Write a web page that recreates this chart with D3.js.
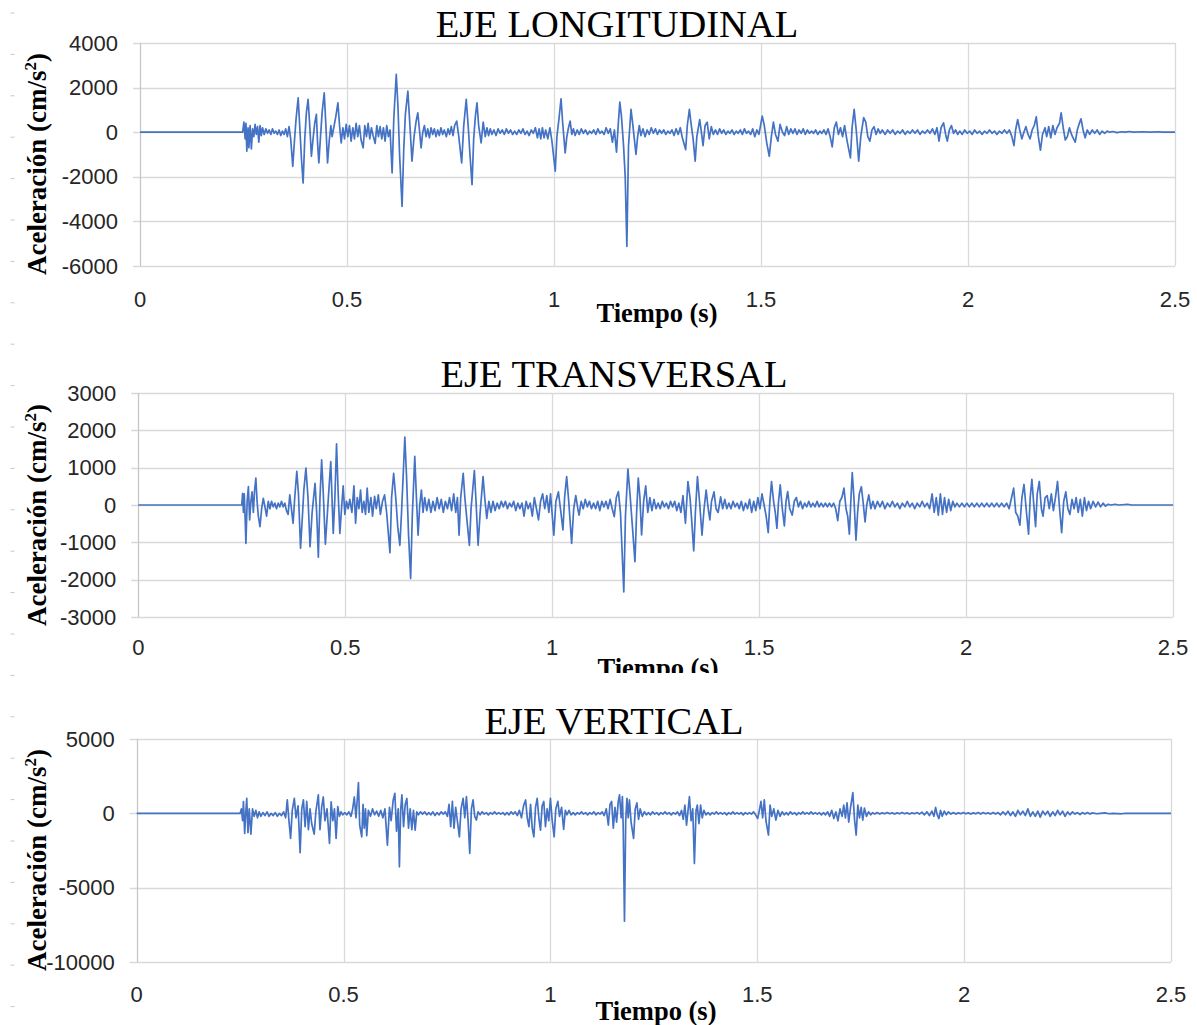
<!DOCTYPE html>
<html>
<head>
<meta charset="utf-8">
<script src="https://cdn.jsdelivr.net/npm/d3@7/dist/d3.min.js"></script>
<style>
    body { margin: 0; background: #ffffff; }
    svg { display: block; }
</style>
</head>
<body>
<div id="chart"></div>
<script>
"use strict";

// time axis ticks (s)
var time_ticks = [0, 0.5, 1, 1.5, 2, 2.5];

// y ticks of each panel (cm/s2)
var long_ticks = [4000, 2000, 0, -2000, -4000, -6000];
var trans_ticks = [3000, 2000, 1000, 0, -1000, -2000, -3000];
var vert_ticks = [5000, 0, -5000, -10000];

var titles = ["EJE LONGITUDINAL", "EJE TRANSVERSAL", "EJE VERTICAL"];

// [time, acceleration]
var longitudinal = [
[0,0],[0.248,0],
[0.251,450],[0.254,-300],[0.256,400],[0.258,-850],[0.261,200],[0.263,-700],[0.266,300],[0.269,-750],[0.272,150],[0.275,-200],[0.278,350],[0.281,-100],[0.284,250],[0.287,-450],[0.290,300],[0.293,-150],[0.296,200],
[0.300,-100],[0.304,150],[0.308,-50],[0.312,100],[0.316,-100],[0.320,150],[0.324,-50],[0.328,50],[0.332,-100],[0.336,100],[0.340,-150],[0.344,50],[0.348,-100],[0.352,150],[0.356,-200],[0.360,250],
[0.364,-300],[0.369,-1530],[0.373,-400],[0.377,600],[0.382,1540],[0.386,200],[0.390,-1200],[0.394,-2280],[0.398,-300],[0.402,900],[0.406,1470],[0.410,300],[0.414,-1080],[0.418,-300],[0.422,400],[0.426,800],[0.429,-500],[0.432,-1380],[0.436,-200],[0.440,900],[0.445,1770],[0.449,300],[0.453,-1380],[0.457,-400],[0.461,300],[0.464,-200],[0.468,200],[0.473,700],[0.478,1320],[0.482,300],[0.486,-480],[0.490,200],[0.494,-300],[0.498,350],[0.502,-200],[0.506,300],[0.510,-400],[0.514,200],[0.518,-300],[0.522,400],[0.526,-200],[0.530,300],[0.534,-350],[0.539,-700],[0.543,300],[0.547,-200],[0.551,400],[0.555,-300],[0.559,200],[0.563,-150],[0.568,-500],[0.572,300],[0.576,-200],[0.580,250],[0.584,-300],[0.588,200],[0.592,-400],[0.596,300],[0.600,-200],[0.604,100],
[0.609,-1830],[0.613,600],[0.619,2590],[0.623,1200],[0.627,-1000],[0.633,-3330],[0.637,-800],[0.641,800],[0.647,1840],[0.652,300],[0.657,-1300],[0.662,-200],[0.667,500],[0.671,870],[0.675,100],[0.679,-700],[0.683,0],[0.687,300],[0.691,-200],[0.695,150],[0.699,-250],[0.703,200],[0.707,-100],[0.711,150],[0.715,-200],[0.719,100],[0.723,-150],[0.727,200],[0.731,-100],[0.735,100],[0.740,-200],[0.744,150],[0.748,-100],[0.752,250],[0.756,-150],[0.760,300],[0.765,500],[0.770,-200],[0.777,-1380],[0.782,300],[0.788,1470],[0.793,200],[0.797,-1000],[0.802,-2350],[0.806,-300],[0.810,700],[0.814,1320],[0.818,300],[0.824,-480],[0.829,450],[0.834,-200],[0.838,200],[0.842,-150],[0.846,150],[0.850,-100],[0.855,100],[0.860,-150],[0.865,150],[0.870,-50],[0.875,100],[0.880,-100],[0.885,150],[0.890,-50],[0.895,100],[0.900,-100],[0.905,50],[0.910,-100],[0.915,100],[0.920,-50],[0.925,150],[0.930,-100],[0.935,50],[0.940,-150],[0.945,100],[0.950,-50],[0.955,200],[0.960,-250],[0.964,150],[0.968,-300],[0.972,200],[0.976,-250],[0.980,100],[0.985,-300],[0.990,200],[0.995,-400],
[1.003,-1750],[1.007,-200],[1.012,600],[1.017,1500],[1.021,400],[1.027,-930],[1.031,-200],[1.035,200],[1.039,500],[1.043,-100],[1.047,150],[1.051,-150],[1.056,100],[1.061,-100],[1.066,150],[1.071,-50],[1.076,100],[1.081,-100],[1.086,50],[1.091,-50],[1.096,100],[1.101,-100],[1.106,150],[1.111,-50],[1.116,50],[1.121,-100],[1.126,200],[1.131,-50],[1.136,150],[1.141,-450],[1.146,100],[1.151,-900],[1.155,300],[1.159,1350],[1.163,700],[1.168,-600],[1.172,-2000],[1.176,-5120],[1.180,-600],[1.186,1020],[1.190,400],[1.194,-300],[1.198,-1000],[1.202,-200],[1.206,300],[1.210,-150],[1.215,150],[1.220,-200],[1.225,100],[1.230,-100],[1.235,200],[1.240,-50],[1.245,150],[1.250,-100],[1.255,100],[1.260,-50],[1.265,100],[1.270,-100],[1.275,50],[1.280,-50],[1.285,100],[1.290,-150],[1.295,150],[1.300,-100],[1.305,200],[1.310,-250],
[1.318,-780],[1.322,300],[1.327,1020],[1.331,400],[1.336,-300],[1.341,-1300],[1.345,-200],[1.352,570],[1.356,0],[1.360,-600],[1.365,300],[1.370,450],[1.375,-300],[1.380,250],[1.385,-100],[1.390,100],[1.395,-100],[1.400,150],[1.405,-50],[1.410,100],[1.415,-100],[1.420,50],[1.425,-50],[1.430,100],[1.435,-100],[1.440,50],[1.445,-50],[1.450,100],[1.455,-100],[1.460,150],[1.465,-50],[1.470,50],[1.475,-100],[1.480,150],[1.485,-200],[1.490,100],[1.495,-100],
[1.503,720],[1.508,300],[1.514,-500],[1.520,-1080],[1.525,-200],[1.530,450],[1.535,-100],[1.541,-400],[1.546,350],[1.552,0],[1.557,-150],[1.562,250],[1.567,-100],[1.572,150],[1.577,-50],[1.582,150],[1.587,-100],[1.592,100],[1.597,-50],[1.602,150],[1.607,-100],[1.612,100],[1.617,-50],[1.622,50],[1.627,-50],[1.632,100],[1.637,-100],[1.642,50],[1.647,-50],[1.652,100],[1.657,-100],[1.662,150],[1.667,-200],[1.672,-660],[1.677,200],[1.682,450],[1.687,-100],[1.692,200],[1.697,-200],[1.702,300],[1.708,-400],[1.716,-1150],[1.720,200],[1.725,1020],[1.730,100],[1.736,-1300],[1.741,-200],[1.748,650],[1.753,450],[1.758,-200],[1.763,-400],[1.768,100],[1.773,250],[1.778,-100],[1.783,150],[1.788,-50],[1.793,100],
[1.800,-100],[1.806,100],[1.812,-50],[1.818,100],[1.824,-100],[1.830,50],[1.836,-50],[1.842,100],[1.848,-100],[1.854,50],[1.860,-50],[1.866,100],[1.872,-50],[1.878,100],[1.884,-100],[1.890,50],[1.896,-50],[1.902,100],[1.908,-50],[1.914,150],[1.920,-100],[1.925,200],[1.930,-400],[1.935,200],[1.941,420],[1.946,-100],[1.950,-400],[1.955,100],[1.960,300],[1.965,-50],[1.970,100],[1.975,-100],[1.980,50],[1.986,-100],[1.992,100],[1.998,-50],[2.004,50],[2.010,-100],[2.016,100],[2.022,-50],[2.028,50],[2.034,-100],[2.040,50],[2.046,-50],[2.052,100],[2.058,-50],[2.064,50],[2.070,-100],[2.076,50],[2.082,-50],[2.088,100],[2.094,-50],[2.100,100],
[2.106,-200],[2.111,-600],[2.115,100],[2.120,570],[2.125,100],[2.130,-300],[2.135,0],[2.140,250],[2.145,-100],[2.150,-300],[2.155,100],[2.160,300],[2.165,690],[2.170,-200],[2.175,-810],[2.180,-100],[2.186,200],[2.190,-200],[2.195,250],[2.200,-250],[2.205,300],[2.210,-100],[2.215,200],[2.221,400],[2.225,870],[2.230,200],[2.235,-350],[2.240,-200],[2.245,200],[2.250,-100],[2.255,-300],[2.259,-450],[2.264,100],[2.268,350],[2.273,600],[2.278,100],[2.283,-250],[2.288,100],[2.294,-100],[2.300,100],[2.306,-50],[2.312,100],[2.318,-100],[2.324,50],[2.330,-50],[2.336,50],[2.342,0],[2.350,30],[2.360,-20],[2.370,20],[2.380,0],[2.390,30],[2.400,0],[2.420,20],[2.440,0],[2.460,20],[2.470,0],[2.500,0]
];

var transversal = [
[0,0],[0.250,0],
[0.252,310],[0.254,-200],[0.256,300],[0.258,-300],[0.260,-1030],[0.263,100],[0.266,490],[0.269,-400],[0.272,100],[0.275,350],[0.278,-200],[0.281,400],[0.284,720],[0.287,100],[0.290,-300],[0.294,-580],[0.298,-100],[0.302,180],[0.306,-50],[0.310,-300],[0.314,100],[0.318,-100],[0.322,100],[0.326,-50],[0.330,50],[0.334,-100],[0.338,50],[0.342,-50],[0.346,100],[0.350,-50],[0.354,50],[0.358,-150],[0.362,-250],[0.366,270],[0.370,-100],[0.374,-490],[0.378,200],
[0.383,900],[0.387,300],[0.392,-1160],[0.396,-400],[0.400,400],[0.405,990],[0.410,200],[0.415,-1120],[0.420,-200],[0.427,580],[0.431,-200],[0.435,-1400],[0.439,200],[0.443,1210],[0.447,300],[0.452,-1050],[0.457,-200],[0.461,500],[0.465,1160],[0.468,200],[0.471,-760],[0.475,200],[0.479,1640],[0.483,300],[0.487,-760],[0.491,-100],[0.495,510],[0.499,-250],[0.503,100],[0.507,-100],[0.511,150],[0.516,-200],[0.521,510],[0.525,-490],[0.529,200],[0.533,-100],[0.537,400],[0.541,-200],[0.545,100],[0.549,-250],[0.553,450],[0.557,-200],[0.562,200],[0.566,-300],[0.571,230],[0.575,-100],[0.580,270],[0.585,-250],[0.590,100],[0.595,270],[0.600,-200],
[0.608,-1280],[0.612,200],[0.617,850],[0.622,200],[0.627,-600],[0.632,-1080],[0.636,-200],[0.640,800],[0.644,1820],[0.648,800],[0.653,-800],[0.658,-1970],[0.662,-300],[0.668,1300],[0.672,200],[0.676,-810],[0.680,0],[0.684,400],[0.688,-200],[0.692,200],[0.697,-150],[0.702,150],[0.707,-200],[0.712,100],[0.717,-150],[0.722,200],[0.727,-100],[0.732,150],[0.737,-200],[0.742,100],[0.747,-100],[0.752,200],[0.757,-150],[0.762,300],[0.767,-200],[0.771,200],
[0.775,-810],[0.779,200],[0.785,850],[0.789,200],[0.794,-400],[0.800,-1080],[0.804,-100],[0.812,920],[0.816,100],[0.821,-1080],[0.826,-200],[0.833,760],[0.837,200],[0.842,-360],[0.847,100],[0.852,-200],[0.857,100],[0.862,-150],[0.867,50],[0.872,-100],[0.877,100],[0.882,-50],[0.887,100],[0.892,-100],[0.897,50],[0.902,-50],[0.907,100],[0.912,-150],[0.917,50],[0.922,-100],[0.927,50],[0.932,-300],[0.937,100],[0.942,-100],[0.947,50],[0.952,-300],[0.957,200],[0.962,-100],[0.967,-400],[0.972,100],[0.977,300],[0.982,-100],[0.987,250],[0.992,-200],[0.996,300],
[1.004,-810],[1.009,100],[1.015,350],[1.020,-100],[1.026,-670],[1.030,200],[1.035,760],[1.040,100],[1.047,-1030],[1.052,-100],[1.057,250],[1.062,-100],[1.065,-270],[1.070,100],[1.075,-100],[1.080,150],[1.085,-50],[1.090,100],[1.095,-100],[1.100,50],[1.105,-100],[1.110,100],[1.115,-150],[1.120,100],[1.125,-50],[1.130,100],[1.135,-100],[1.140,150],[1.145,-100],[1.150,-310],[1.155,200],[1.160,360],[1.165,-200],
[1.173,-2330],[1.177,-300],[1.183,960],[1.188,300],[1.194,-600],[1.200,-1520],[1.204,-200],[1.208,720],[1.212,200],[1.216,-800],[1.221,100],[1.226,510],[1.231,-200],[1.236,200],[1.241,-150],[1.246,150],[1.251,-100],[1.256,50],[1.261,-100],[1.266,100],[1.271,-50],[1.276,50],[1.281,-100],[1.286,100],[1.291,-50],[1.296,100],[1.301,-150],[1.306,50],[1.311,-200],[1.316,250],
[1.322,-490],[1.328,630],[1.333,200],[1.337,-400],[1.342,-1230],[1.346,-200],[1.351,760],[1.356,100],[1.362,-810],[1.367,-100],[1.372,400],[1.377,-100],[1.381,-400],[1.385,100],[1.391,350],[1.396,-100],[1.401,-200],[1.407,220],[1.412,-100],[1.417,150],[1.422,-100],[1.427,50],[1.432,-100],[1.437,100],[1.442,-50],[1.447,50],[1.452,-100],[1.457,100],[1.462,-150],[1.467,50],[1.472,-100],[1.477,150],[1.482,-200],[1.487,100],[1.492,-150],[1.497,200],[1.502,-100],
[1.507,300],[1.512,0],[1.517,-300],[1.522,-740],[1.526,100],[1.530,630],[1.535,100],[1.539,-200],[1.543,-630],[1.547,100],[1.551,540],[1.556,-100],[1.561,-560],[1.565,100],[1.569,360],[1.574,-100],[1.580,-270],[1.585,100],[1.590,200],[1.595,-50],[1.600,100],[1.605,-100],[1.610,50],[1.615,-50],[1.620,100],[1.625,-50],[1.630,50],[1.635,-50],[1.640,100],[1.645,-50],[1.650,50],[1.655,-50],[1.660,50],[1.665,-50],[1.670,50],[1.675,-50],[1.680,50],[1.685,-100],
[1.690,-420],[1.695,100],[1.700,200],[1.705,450],[1.710,-100],[1.714,-300],[1.718,-780],[1.722,200],[1.725,870],[1.729,200],[1.734,-940],[1.738,-200],[1.742,300],[1.747,490],[1.751,100],[1.756,-450],[1.760,0],[1.765,270],[1.770,-100],[1.775,100],[1.780,-100],[1.786,100],[1.792,-50],[1.798,100],[1.804,-100],[1.810,50],[1.816,-50],[1.822,100],[1.828,-50],[1.834,50],[1.840,-100],[1.846,50],[1.852,-50],[1.858,100],[1.864,-50],[1.870,50],[1.876,-100],[1.882,50],[1.888,-50],[1.894,100],[1.900,-50],[1.906,50],[1.912,-100],
[1.918,300],[1.923,-200],[1.928,200],[1.933,-270],[1.938,300],[1.943,-250],[1.948,200],[1.953,-200],[1.958,150],[1.963,-150],[1.968,100],[1.973,-50],[1.978,50],[1.984,-50],[1.990,50],[1.996,-50],[2.002,50],[2.008,-50],[2.014,50],[2.020,-50],[2.026,50],[2.032,-50],[2.038,50],[2.044,-50],[2.050,50],[2.056,-50],[2.062,50],[2.068,-50],[2.074,50],[2.080,-50],[2.086,50],[2.092,-50],[2.098,50],
[2.104,-100],[2.110,200],[2.115,450],[2.120,-200],[2.125,-300],[2.130,-540],[2.135,200],[2.140,550],[2.146,-200],[2.151,-780],[2.155,200],[2.159,690],[2.163,100],[2.168,-580],[2.172,300],[2.177,630],[2.182,-100],[2.186,-300],[2.191,200],[2.196,250],[2.201,-100],[2.206,300],[2.211,-150],[2.216,200],[2.221,630],[2.226,-100],[2.231,-740],[2.236,100],[2.241,350],[2.246,-100],[2.251,-250],[2.256,150],[2.261,-100],[2.266,200],[2.271,-200],[2.276,150],[2.281,-300],[2.286,200],[2.291,-150],[2.296,100],[2.301,-100],[2.307,100],[2.313,-50],[2.319,80],[2.325,-50],[2.331,50],[2.337,-30],[2.343,20],[2.350,0],[2.360,20],[2.370,0],[2.390,20],[2.400,0],[2.500,0]
];

var vertical = [
[0,0],[0.250,0],
[0.253,300],[0.256,-500],[0.258,790],[0.261,-1350],[0.264,200],[0.266,1010],[0.269,-1300],[0.272,300],[0.276,-1400],[0.280,300],[0.284,-200],[0.288,200],[0.292,-300],[0.296,100],[0.300,-200],[0.305,50],[0.310,-150],[0.315,100],[0.320,-200],[0.325,0],[0.330,-150],[0.335,50],[0.340,-200],[0.345,0],[0.350,-150],[0.355,100],[0.360,-300],
[0.364,900],[0.368,-500],[0.372,-1690],[0.376,200],[0.381,1010],[0.385,-300],[0.390,500],[0.395,-2650],[0.399,300],[0.403,900],[0.407,-900],[0.411,800],[0.415,-1100],[0.419,300],[0.423,-700],[0.429,-1400],[0.433,100],[0.439,1240],[0.443,-1100],[0.447,400],[0.451,1100],[0.455,-500],[0.460,300],[0.466,-2030],[0.470,780],[0.474,-500],[0.478,300],[0.482,-1690],[0.486,450],[0.490,-200],[0.494,100],[0.498,-100],[0.503,50],[0.508,-100],[0.513,100],[0.518,-200],
[0.522,300],[0.526,1100],[0.530,-300],[0.536,2070],[0.539,-800],[0.544,-1580],[0.547,600],[0.550,-1000],[0.553,300],[0.556,-1500],[0.560,200],[0.565,-200],[0.570,300],[0.575,-100],[0.580,150],[0.585,-200],[0.590,200],[0.595,-300],[0.600,300],
[0.606,-2140],[0.611,400],[0.615,-500],[0.620,900],[0.624,1350],[0.628,-1200],[0.632,300],[0.635,-3600],[0.638,200],[0.641,1240],[0.645,-900],[0.649,600],[0.653,1000],[0.657,-1000],[0.661,300],[0.665,-1100],[0.669,200],[0.673,-1130],[0.677,100],[0.681,-100],[0.686,100],[0.691,-50],[0.696,100],[0.701,-100],[0.706,50],[0.711,-100],[0.716,100],[0.721,-150],[0.726,50],[0.731,-100],[0.736,100],[0.741,-50],[0.746,100],[0.751,-200],
[0.755,600],[0.759,-900],[0.763,800],[0.767,-1000],[0.771,400],[0.775,-500],[0.780,-1580],[0.784,300],[0.789,1010],[0.793,-300],[0.797,1130],[0.801,-500],[0.805,-2700],[0.809,300],[0.813,900],[0.817,-200],[0.821,-450],[0.825,100],[0.830,-100],[0.835,100],[0.840,-50],[0.845,50],[0.850,-100],[0.855,50],[0.860,-50],[0.865,100],[0.870,-50],[0.875,50],[0.880,-50],[0.885,50],[0.890,-100],[0.895,50],[0.900,-100],[0.905,100],[0.910,-50],[0.915,100],[0.920,-150],[0.925,200],[0.930,-300],
[0.935,500],[0.940,900],[0.944,-300],[0.948,-900],[0.952,600],[0.956,-1000],[0.960,-1580],[0.964,400],[0.968,1010],[0.972,-300],[0.976,-1130],[0.980,500],[0.984,800],[0.988,-900],[0.992,300],[0.996,-500],[1.000,1010],[1.004,-400],[1.009,-1580],[1.013,300],[1.018,800],[1.022,-200],[1.027,400],[1.032,-1080],[1.036,200],[1.040,-100],[1.045,200],[1.050,-100],[1.055,50],[1.060,-100],[1.065,50],[1.070,-50],[1.075,100],[1.080,-50],[1.085,50],[1.090,-100],[1.095,50],[1.100,-50],[1.105,100],[1.110,-100],[1.115,50],[1.120,-50],[1.125,100],[1.130,-150],
[1.135,300],[1.140,-800],[1.144,600],[1.148,800],[1.152,-1000],[1.156,400],[1.160,-600],[1.164,800],[1.167,1240],[1.171,-300],[1.174,1130],[1.176,-1000],[1.179,-7250],[1.182,-500],[1.185,1010],[1.188,-300],[1.191,900],[1.195,-600],[1.201,-1690],[1.205,300],[1.209,700],[1.213,-400],[1.217,300],[1.222,-200],[1.227,100],[1.232,-100],[1.237,50],[1.242,-100],[1.247,100],[1.252,-50],[1.257,50],[1.262,-100],[1.267,50],[1.272,-50],[1.277,100],[1.282,-50],[1.287,50],[1.292,-100],[1.297,50],[1.302,-50],[1.307,100],[1.312,-150],[1.317,200],
[1.321,-400],[1.325,550],[1.329,-800],[1.333,300],[1.336,1130],[1.340,-500],[1.344,300],[1.348,-3380],[1.352,200],[1.355,550],[1.359,-700],[1.363,550],[1.367,-300],[1.371,200],[1.376,-100],[1.381,50],[1.386,-100],[1.391,50],[1.396,-50],[1.401,100],[1.406,-50],[1.411,50],[1.416,-50],[1.421,50],[1.426,-100],[1.431,50],[1.436,-50],[1.441,100],[1.446,-50],[1.451,50],[1.456,-50],[1.461,50],[1.466,-100],[1.471,50],[1.476,-50],[1.481,50],[1.486,-50],[1.491,100],[1.496,-100],
[1.501,-350],[1.505,200],[1.509,800],[1.513,-300],[1.517,900],[1.521,-500],[1.527,-1460],[1.531,550],[1.535,-200],[1.540,300],[1.545,-450],[1.550,200],[1.555,-200],[1.560,100],[1.565,-100],[1.570,50],[1.575,-100],[1.580,100],[1.585,-50],[1.590,50],[1.595,-100],[1.600,50],[1.605,-50],[1.610,100],[1.615,-50],[1.620,50],[1.625,-50],[1.630,100],[1.635,-50],[1.640,50],[1.645,-50],[1.650,50],[1.655,-100],[1.660,50],[1.665,-100],[1.670,100],[1.675,-200],[1.680,200],[1.685,-350],[1.690,100],
[1.695,-500],[1.700,300],[1.705,-200],[1.709,550],[1.713,-300],[1.717,700],[1.721,-600],[1.725,300],[1.731,1400],[1.735,-400],[1.739,-1460],[1.743,550],[1.747,-300],[1.751,400],[1.755,-450],[1.759,350],[1.764,-200],[1.769,100],[1.774,-100],[1.779,50],[1.784,-50],[1.790,50],[1.796,-50],[1.802,30],[1.808,-30],[1.814,50],[1.820,-30],[1.826,30],[1.832,-50],[1.838,30],[1.844,-30],[1.850,50],[1.856,-30],[1.862,30],[1.868,-50],[1.874,30],[1.880,-30],[1.886,50],[1.892,-50],[1.898,80],[1.904,-100],[1.910,100],[1.916,-150],[1.922,150],[1.927,-200],[1.931,400],[1.935,-100],[1.939,-350],[1.943,200],[1.947,-200],[1.952,150],[1.957,-100],[1.962,100],[1.968,-50],[1.974,50],[1.980,-50],[1.986,30],[1.992,-30],[1.998,50],[2.004,-30],[2.010,30],[2.016,-50],[2.022,30],[2.028,-30],[2.034,50],[2.040,-50],[2.046,50],[2.052,-30],[2.058,30],[2.064,-50],[2.070,50],[2.076,-50],[2.082,50],[2.088,-100],
[2.094,100],[2.100,-100],[2.106,150],[2.112,-150],[2.118,100],[2.124,-200],[2.130,200],[2.136,-100],[2.142,150],[2.148,-150],[2.154,300],[2.160,-200],[2.166,100],[2.172,-200],[2.178,150],[2.184,-250],[2.190,150],[2.196,-100],[2.202,150],[2.208,-200],[2.214,100],[2.220,-150],[2.226,200],[2.232,-100],[2.238,150],[2.244,-200],[2.250,100],[2.256,-100],[2.262,100],[2.268,-50],[2.274,50],[2.280,-80],[2.286,50],[2.292,-50],[2.298,50],[2.304,-50],[2.310,30],[2.320,-30],[2.330,0],[2.340,30],[2.350,-30],[2.360,0],[2.380,-30],[2.390,0],[2.500,0]
];

var W = 1197, H = 1025;
var LINE_BLUE = "#4472c4";
var GRID = "#d9d9d9";
var SANS = "'Liberation Sans', Arial, sans-serif";
var SERIF = "'Liberation Serif', 'Times New Roman', serif";

var svg = d3.select("#chart")
    .append("svg")
    .attr("width", W)
    .attr("height", H)
    .style("background", "#ffffff");

// little grey dashes down the left margin
svg.append("g")
    .selectAll("line")
    .data(d3.range(13, H, 41.4))
    .enter()
    .append("line")
    .attr("x1", 10.5).attr("x2", 14.5)
    .attr("y1", function(d) { return d; })
    .attr("y2", function(d) { return d; })
    .attr("stroke", "#c8c8c8")
    .attr("stroke-width", 1);

var draw_panel = function draw_panel(properties) {
    var g = svg.append("g");
    var left = properties.left, right = properties.right;
    var top = properties.top, bottom = properties.bottom;

    var x = d3.scaleLinear().domain([0, 2.5]).range([left, right]);
    var y = d3.scaleLinear().domain(d3.extent(properties.ticks)).range([bottom, top]);

    // horizontal gridlines (with small outer tick)
    g.append("g")
        .selectAll("line")
        .data(properties.ticks)
        .enter()
        .append("line")
        .attr("x1", left - 7)
        .attr("x2", right)
        .attr("y1", function(d) { return Math.round(y(d)) + 0.5; })
        .attr("y2", function(d) { return Math.round(y(d)) + 0.5; })
        .attr("stroke", GRID)
        .attr("stroke-width", 1.3);

    // vertical gridlines
    g.append("g")
        .selectAll("line")
        .data(time_ticks)
        .enter()
        .append("line")
        .attr("x1", function(d) { return Math.round(x(d)) + 0.5; })
        .attr("x2", function(d) { return Math.round(x(d)) + 0.5; })
        .attr("y1", top)
        .attr("y2", bottom)
        .attr("stroke", function(d) { return d === 0 ? "#c6c6c6" : GRID; })
        .attr("stroke-width", 1.3);

    // y tick labels
    g.append("g")
        .selectAll("text")
        .data(properties.ticks)
        .enter()
        .append("text")
        .attr("x", left - 22)
        .attr("y", function(d) { return y(d) + 7.5; })
        .attr("text-anchor", "end")
        .style("font-family", SANS)
        .style("font-size", "22px")
        .style("fill", "#262626")
        .text(function(d) { return d; });

    // x tick labels
    g.append("g")
        .selectAll("text")
        .data(time_ticks)
        .enter()
        .append("text")
        .attr("x", function(d) { return x(d); })
        .attr("y", properties.tick_y)
        .attr("text-anchor", "middle")
        .style("font-family", SANS)
        .style("font-size", "22px")
        .style("fill", "#262626")
        .text(function(d) { return d; });

    // the record
    var line = d3.line()
        .x(function(d) { return x(d[0]); })
        .y(function(d) { return y(d[1]); });

    g.append("path")
        .datum(properties.data)
        .attr("d", line)
        .attr("fill", "none")
        .attr("stroke", LINE_BLUE)
        .attr("stroke-width", 1.7)
        .attr("stroke-linejoin", "round");

    // title
    g.append("text")
        .attr("x", properties.title_x)
        .attr("y", properties.title_y)
        .attr("text-anchor", "middle")
        .style("font-family", SERIF)
        .style("font-size", "38.5px")
        .style("fill", "#000000")
        .text(properties.title);

    // y axis title
    var ytitle = g.append("text")
        .attr("transform", "translate(46," + properties.ytitle_y + ") rotate(-90)")
        .attr("text-anchor", "middle")
        .style("font-family", SERIF)
        .style("font-size", "27px")
        .style("font-weight", "bold")
        .style("fill", "#000000");
    ytitle.append("tspan").text("Aceleración (cm/s");
    ytitle.append("tspan").attr("dy", -10).style("font-size", "17px").text("2");
    ytitle.append("tspan").attr("dy", 10).text(")");

    // x axis title (may be cut at the bottom like the picture)
    var xt = g.append("text")
        .attr("x", properties.xtitle_x)
        .attr("y", properties.xtitle_y)
        .attr("text-anchor", "middle")
        .style("font-family", SERIF)
        .style("font-size", "26.5px")
        .style("font-weight", "bold")
        .style("fill", "#000000")
        .text("Tiempo (s)");
    if (properties.clip_y) {
        var id = "clip" + properties.clip_y;
        svg.append("clipPath").attr("id", id)
            .append("rect").attr("x", 0).attr("y", 0)
            .attr("width", W).attr("height", properties.clip_y);
        xt.attr("clip-path", "url(#" + id + ")");
    }
};

draw_panel({
    data: longitudinal, ticks: long_ticks, title: titles[0],
    left: 140, right: 1175, top: 43, bottom: 266,
    tick_y: 307, title_x: 617, title_y: 37,
    ytitle_y: 164, xtitle_x: 657, xtitle_y: 322
});

draw_panel({
    data: transversal, ticks: trans_ticks, title: titles[1],
    left: 138.3, right: 1173, top: 393, bottom: 617,
    tick_y: 655, title_x: 614, title_y: 387,
    ytitle_y: 515, xtitle_x: 658, xtitle_y: 677, clip_y: 673
});

draw_panel({
    data: vertical, ticks: vert_ticks, title: titles[2],
    left: 136.7, right: 1171, top: 739, bottom: 962,
    tick_y: 1002, title_x: 614, title_y: 734,
    ytitle_y: 860, xtitle_x: 656, xtitle_y: 1020
});
</script>
</body>
</html>
